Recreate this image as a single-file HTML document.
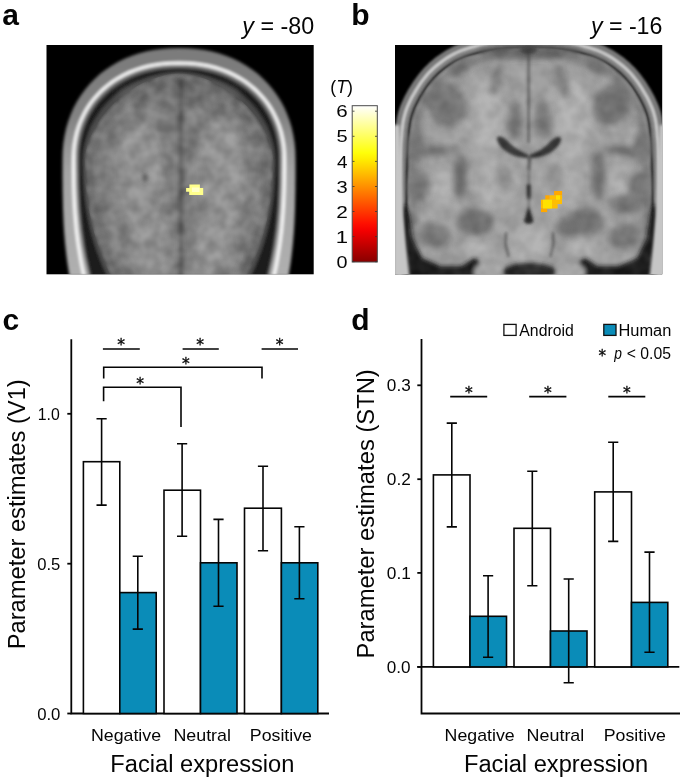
<!DOCTYPE html>
<html><head><meta charset="utf-8"><title>Figure</title>
<style>
html,body{margin:0;padding:0;background:#fff;}
body{width:685px;height:782px;overflow:hidden;}
svg{display:block;will-change:transform;}
text{font-family:"Liberation Sans",Arial,sans-serif;fill:#050505;}
.b{font-weight:bold;font-size:30px;}
.ln{stroke:#050505;stroke-width:1.6;fill:none;}
.ax{stroke:#050505;stroke-width:1.8;fill:none;}
.wb{fill:#fff;stroke:#050505;stroke-width:1.6;}
.bb{fill:#0a8cb8;stroke:#050505;stroke-width:1.6;}
</style></head><body>
<svg width="685" height="782" viewBox="0 0 685 782">
<rect width="685" height="782" fill="#fff"/>

<defs><clipPath id="ca"><rect x="46.5" y="45" width="267.2" height="229.3"/></clipPath>
<clipPath id="cb"><rect x="395" y="45" width="267.2" height="229.3"/></clipPath>
<filter id="bl" filterUnits="userSpaceOnUse" x="0" y="0" width="685" height="300"><feGaussianBlur stdDeviation="1.6"/></filter>
<filter id="bl0" filterUnits="userSpaceOnUse" x="0" y="0" width="685" height="300"><feGaussianBlur stdDeviation="0.5"/></filter>
<filter id="bl1" filterUnits="userSpaceOnUse" x="0" y="0" width="685" height="300"><feGaussianBlur stdDeviation="1.15"/></filter>
<filter id="bl2" filterUnits="userSpaceOnUse" x="0" y="0" width="685" height="300"><feGaussianBlur stdDeviation="2.2"/></filter>
<filter id="bl3" filterUnits="userSpaceOnUse" x="0" y="0" width="685" height="300"><feGaussianBlur stdDeviation="3.2"/></filter>
<filter id="bl5" filterUnits="userSpaceOnUse" x="0" y="0" width="685" height="300"><feGaussianBlur stdDeviation="5"/></filter>
<filter id="nz" filterUnits="userSpaceOnUse" x="0" y="0" width="685" height="300" color-interpolation-filters="sRGB"><feTurbulence type="fractalNoise" baseFrequency="0.075" numOctaves="2" seed="7"/><feColorMatrix type="matrix" values="2 0 0 0 -0.5  2 0 0 0 -0.5  2 0 0 0 -0.5  0 0 0 0 0.13"/><feGaussianBlur stdDeviation="0.8"/></filter>
</defs>
<rect x="46.5" y="45" width="267.2" height="229.3" fill="#000"/>
<g clip-path="url(#ca)"><g filter="url(#bl)">
<linearGradient id="sg" gradientUnits="userSpaceOnUse" x1="0" y1="48" x2="0" y2="274"><stop offset="0" stop-color="#7a7a7a"/><stop offset="0.3" stop-color="#828282"/><stop offset="0.55" stop-color="#a5a5a5"/><stop offset="1" stop-color="#afafaf"/></linearGradient>
<path d="M69.5 276.0L68.7 271.2L67.9 266.3L67.2 261.5L66.6 256.7L66.0 251.8L65.5 247.0L65.0 242.2L64.6 237.3L64.2 232.5L63.9 227.7L63.6 222.8L63.4 218.0L63.2 213.2L63.0 208.3L62.9 203.5L62.8 198.7L62.7 193.8L62.6 189.0L62.6 184.2L62.5 179.3L62.5 174.5L62.5 169.7L62.5 164.8L62.5 160.0L62.7 151.1L63.4 143.1L64.6 135.5L66.2 128.1L68.3 121.0L70.8 114.2L73.7 107.6L77.1 101.2L80.9 95.2L85.1 89.4L89.7 84.0L94.6 78.9L99.9 74.1L105.6 69.7L111.6 65.7L117.9 62.0L124.5 58.8L131.3 56.0L138.5 53.5L145.9 51.6L153.5 50.0L161.5 48.9L169.8 48.2L179.0 48.0L188.2 48.2L196.5 48.9L204.5 50.0L212.1 51.6L219.5 53.5L226.7 56.0L233.5 58.8L240.1 62.0L246.4 65.7L252.4 69.7L258.1 74.1L263.4 78.9L268.3 84.0L272.9 89.4L277.1 95.2L280.9 101.2L284.3 107.6L287.2 114.2L289.7 121.0L291.8 128.1L293.4 135.5L294.6 143.1L295.3 151.1L295.5 160.0L295.5 164.8L295.5 169.7L295.5 174.5L295.5 179.3L295.4 184.2L295.4 189.0L295.3 193.8L295.2 198.7L295.1 203.5L295.0 208.3L294.8 213.2L294.6 218.0L294.4 222.8L294.1 227.7L293.8 232.5L293.4 237.3L293.0 242.2L292.5 247.0L292.0 251.8L291.4 256.7L290.8 261.5L290.1 266.3L289.3 271.2L288.5 276.0Z" fill="url(#sg)"/>
<path d="M84.0 276.0L82.9 271.2L81.9 266.3L81.0 261.5L80.2 256.7L79.4 251.8L78.6 247.0L77.9 242.2L77.3 237.3L76.7 232.5L76.2 227.7L75.8 222.8L75.4 218.0L75.0 213.2L74.7 208.3L74.4 203.5L74.2 198.7L74.0 193.8L73.8 189.0L73.7 184.2L73.6 179.3L73.6 174.5L73.5 169.7L73.5 164.8L73.5 160.0L73.7 152.3L74.3 145.4L75.4 138.8L76.8 132.4L78.7 126.3L81.0 120.3L83.7 114.6L86.7 109.1L90.1 103.9L93.9 98.9L98.1 94.2L102.6 89.7L107.4 85.6L112.5 81.8L117.9 78.3L123.6 75.1L129.6 72.3L135.8 69.9L142.3 67.8L149.0 66.1L155.9 64.7L163.1 63.8L170.7 63.2L179.0 63.0L187.3 63.2L194.9 63.8L202.1 64.7L209.0 66.1L215.7 67.8L222.2 69.9L228.4 72.3L234.4 75.1L240.1 78.3L245.5 81.8L250.6 85.6L255.4 89.7L259.9 94.2L264.1 98.9L267.9 103.9L271.3 109.1L274.3 114.6L277.0 120.3L279.3 126.3L281.2 132.4L282.6 138.8L283.7 145.4L284.3 152.3L284.5 160.0L284.5 164.8L284.5 169.7L284.4 174.5L284.4 179.3L284.3 184.2L284.2 189.0L284.0 193.8L283.8 198.7L283.6 203.5L283.3 208.3L283.0 213.2L282.6 218.0L282.2 222.8L281.8 227.7L281.3 232.5L280.7 237.3L280.1 242.2L279.4 247.0L278.6 251.8L277.8 256.7L277.0 261.5L276.1 266.3L275.1 271.2L274.0 276.0" fill="none" stroke="#fafafa" stroke-width="3.1"/>
<path d="M89.0 276.0L87.8 271.2L86.7 266.3L85.6 261.5L84.6 256.7L83.7 251.8L82.8 247.0L82.1 242.2L81.4 237.3L80.7 232.5L80.1 227.7L79.6 222.8L79.1 218.0L78.7 213.2L78.3 208.3L78.0 203.5L77.8 198.7L77.6 193.8L77.4 189.0L77.2 184.2L77.1 179.3L77.1 174.5L77.0 169.7L77.0 164.8L77.0 160.0L77.2 152.6L77.8 145.9L78.8 139.6L80.2 133.4L82.0 127.5L84.2 121.7L86.8 116.2L89.8 110.9L93.1 105.9L96.8 101.1L100.8 96.5L105.1 92.3L109.8 88.3L114.7 84.6L120.0 81.3L125.5 78.2L131.2 75.5L137.3 73.1L143.5 71.1L150.0 69.5L156.7 68.2L163.7 67.2L170.9 66.7L179.0 66.5L187.1 66.7L194.3 67.2L201.3 68.2L208.0 69.5L214.5 71.1L220.7 73.1L226.8 75.5L232.5 78.2L238.0 81.3L243.3 84.6L248.2 88.3L252.9 92.3L257.2 96.5L261.2 101.1L264.9 105.9L268.2 110.9L271.2 116.2L273.8 121.7L276.0 127.5L277.8 133.4L279.2 139.6L280.2 145.9L280.8 152.6L281.0 160.0L281.0 164.8L281.0 169.7L280.9 174.5L280.9 179.3L280.8 184.2L280.6 189.0L280.4 193.8L280.2 198.7L280.0 203.5L279.7 208.3L279.3 213.2L278.9 218.0L278.4 222.8L277.9 227.7L277.3 232.5L276.6 237.3L275.9 242.2L275.2 247.0L274.3 251.8L273.4 256.7L272.4 261.5L271.3 266.3L270.2 271.2L269.0 276.0Z" fill="#646464"/>
<path d="M91.0 276.0L89.8 271.2L88.7 266.3L87.6 261.5L86.6 256.7L85.7 251.8L84.8 247.0L84.1 242.2L83.4 237.3L82.7 232.5L82.1 227.7L81.6 222.8L81.1 218.0L80.7 213.2L80.3 208.3L80.0 203.5L79.8 198.7L79.6 193.8L79.4 189.0L79.2 184.2L79.1 179.3L79.1 174.5L79.0 169.7L79.0 164.8L79.0 160.0L79.2 152.8L79.8 146.2L80.8 140.0L82.2 134.0L83.9 128.2L86.1 122.6L88.6 117.2L91.5 112.0L94.8 107.0L98.4 102.3L102.3 97.9L106.6 93.7L111.1 89.8L116.0 86.2L121.1 82.9L126.5 80.0L132.2 77.3L138.1 75.0L144.2 73.0L150.6 71.4L157.1 70.1L164.0 69.2L171.1 68.7L179.0 68.5L186.9 68.7L194.0 69.2L200.9 70.1L207.4 71.4L213.8 73.0L219.9 75.0L225.8 77.3L231.5 80.0L236.9 82.9L242.0 86.2L246.9 89.8L251.4 93.7L255.7 97.9L259.6 102.3L263.2 107.0L266.5 112.0L269.4 117.2L271.9 122.6L274.1 128.2L275.8 134.0L277.2 140.0L278.2 146.2L278.8 152.8L279.0 160.0L279.0 164.8L279.0 169.7L278.9 174.5L278.9 179.3L278.8 184.2L278.6 189.0L278.4 193.8L278.2 198.7L278.0 203.5L277.7 208.3L277.3 213.2L276.9 218.0L276.4 222.8L275.9 227.7L275.3 232.5L274.6 237.3L273.9 242.2L273.2 247.0L272.3 251.8L271.4 256.7L270.4 261.5L269.3 266.3L268.2 271.2L267.0 276.0Z" fill="#1c1c1c"/>
<path d="M107.0 276.0L104.8 271.2L102.6 266.3L100.7 261.5L98.8 256.7L97.0 251.8L95.4 247.0L93.9 242.2L92.4 237.3L91.1 232.5L89.9 227.7L88.9 222.8L87.9 218.0L87.0 213.2L86.2 208.3L85.5 203.5L84.9 198.7L84.4 193.8L84.0 189.0L83.7 184.2L83.4 179.3L83.2 174.5L83.1 169.7L83.0 164.8L83.0 160.0L83.2 154.6L83.8 149.1L84.9 143.5L86.4 138.0L88.2 132.5L90.5 127.1L93.1 121.9L96.2 116.8L99.6 111.8L103.3 107.1L107.3 102.6L111.7 98.3L116.4 94.3L121.3 90.6L126.5 87.2L131.8 84.1L137.4 81.3L143.2 78.9L149.0 76.8L155.0 75.1L161.0 73.7L167.1 72.8L173.1 72.2L179.0 72.0L184.9 72.2L190.9 72.8L197.0 73.7L203.0 75.1L209.0 76.8L214.8 78.9L220.6 81.3L226.2 84.1L231.5 87.2L236.7 90.6L241.6 94.3L246.3 98.3L250.7 102.6L254.7 107.1L258.4 111.8L261.8 116.8L264.9 121.9L267.5 127.1L269.8 132.5L271.6 138.0L273.1 143.5L274.2 149.1L274.8 154.6L275.0 160.0L275.0 164.8L274.9 169.7L274.8 174.5L274.6 179.3L274.3 184.2L274.0 189.0L273.6 193.8L273.1 198.7L272.5 203.5L271.8 208.3L271.0 213.2L270.1 218.0L269.1 222.8L268.1 227.7L266.9 232.5L265.6 237.3L264.1 242.2L262.6 247.0L261.0 251.8L259.2 256.7L257.3 261.5L255.4 266.3L253.2 271.2L251.0 276.0Z" fill="#464646"/>
<path d="M113.0 276.0L110.6 271.2L108.4 266.3L106.3 261.5L104.2 256.7L102.4 251.8L100.6 247.0L98.9 242.2L97.4 237.3L95.9 232.5L94.6 227.7L93.4 222.8L92.3 218.0L91.3 213.2L90.4 208.3L89.6 203.5L88.9 198.7L88.3 193.8L87.8 189.0L87.3 184.2L87.0 179.3L86.8 174.5L86.6 169.7L86.5 164.8L86.5 160.0L86.7 156.4L87.4 152.0L88.6 147.3L90.2 142.3L92.2 137.3L94.6 132.2L97.5 127.1L100.7 122.0L104.4 117.1L108.3 112.3L112.6 107.6L117.2 103.2L122.0 99.0L127.1 95.1L132.3 91.4L137.7 88.1L143.2 85.1L148.7 82.5L154.3 80.2L159.8 78.4L165.2 76.9L170.3 75.8L175.1 75.2L179.0 75.0L182.9 75.2L187.7 75.8L192.8 76.9L198.2 78.4L203.7 80.2L209.3 82.5L214.8 85.1L220.3 88.1L225.7 91.4L230.9 95.1L236.0 99.0L240.8 103.2L245.4 107.6L249.7 112.3L253.6 117.1L257.3 122.0L260.5 127.1L263.4 132.2L265.8 137.3L267.8 142.3L269.4 147.3L270.6 152.0L271.3 156.4L271.5 160.0L271.5 164.8L271.4 169.7L271.2 174.5L271.0 179.3L270.7 184.2L270.2 189.0L269.7 193.8L269.1 198.7L268.4 203.5L267.6 208.3L266.7 213.2L265.7 218.0L264.6 222.8L263.4 227.7L262.1 232.5L260.6 237.3L259.1 242.2L257.4 247.0L255.6 251.8L253.8 256.7L251.7 261.5L249.6 266.3L247.4 271.2L245.0 276.0Z" fill="#7d7d7d"/>
</g>
<g filter="url(#bl3)">
<path d="M117.0 276.0L114.7 271.2L112.5 266.3L110.4 261.5L108.4 256.7L106.6 251.8L104.8 247.0L103.2 242.2L101.7 237.3L100.2 232.5L98.9 227.7L97.7 222.8L96.7 218.0L95.7 213.2L94.8 208.3L94.0 203.5L93.3 198.7L92.7 193.8L92.2 189.0L91.8 184.2L91.5 179.3L91.3 174.5L91.1 169.7L91.0 164.8L91.0 160.0L91.2 156.6L91.9 152.5L93.0 148.0L94.5 143.3L96.4 138.5L98.7 133.7L101.5 128.8L104.6 124.0L108.0 119.4L111.8 114.8L115.8 110.4L120.2 106.2L124.8 102.2L129.6 98.5L134.6 95.0L139.7 91.9L144.9 89.1L150.2 86.6L155.5 84.4L160.7 82.7L165.8 81.3L170.8 80.3L175.3 79.7L179.0 79.5L182.7 79.7L187.2 80.3L192.2 81.3L197.3 82.7L202.5 84.4L207.8 86.6L213.1 89.1L218.3 91.9L223.4 95.0L228.4 98.5L233.2 102.2L237.8 106.2L242.2 110.4L246.2 114.8L250.0 119.4L253.4 124.0L256.5 128.8L259.3 133.7L261.6 138.5L263.5 143.3L265.0 148.0L266.1 152.5L266.8 156.6L267.0 160.0L267.0 164.8L266.9 169.7L266.7 174.5L266.5 179.3L266.2 184.2L265.8 189.0L265.3 193.8L264.7 198.7L264.0 203.5L263.2 208.3L262.3 213.2L261.3 218.0L260.3 222.8L259.1 227.7L257.8 232.5L256.3 237.3L254.8 242.2L253.2 247.0L251.4 251.8L249.6 256.7L247.6 261.5L245.5 266.3L243.3 271.2L241.0 276.0" fill="none" stroke="#646464" stroke-width="7" opacity="0.8"/>
</g>
<g filter="url(#bl5)">
<ellipse cx="140" cy="175" rx="26" ry="55" fill="#969696" opacity="0.85"/>
<ellipse cx="222" cy="175" rx="26" ry="55" fill="#969696" opacity="0.85"/>
<ellipse cx="150" cy="245" rx="22" ry="30" fill="#969696" opacity="0.85"/>
<ellipse cx="212" cy="245" rx="22" ry="30" fill="#969696" opacity="0.85"/>
<ellipse cx="179" cy="95" rx="60" ry="12" fill="#696969" opacity="0.7"/>
</g>
<g filter="url(#bl2)">
<path d="M181 78V276" stroke="#3e3e3e" stroke-width="3.6" fill="none" opacity="0.85"/>
<ellipse cx="145" cy="178" rx="2" ry="4" fill="#464646"/>
</g>
<clipPath id="cna"><path d="M111.0 276.0L108.7 271.2L106.5 266.3L104.4 261.5L102.4 256.7L100.6 251.8L98.8 247.0L97.2 242.2L95.7 237.3L94.2 232.5L92.9 227.7L91.7 222.8L90.7 218.0L89.7 213.2L88.8 208.3L88.0 203.5L87.3 198.7L86.7 193.8L86.2 189.0L85.8 184.2L85.5 179.3L85.3 174.5L85.1 169.7L85.0 164.8L85.0 160.0L85.2 156.2L85.9 151.6L87.1 146.6L88.7 141.5L90.7 136.4L93.1 131.1L96.0 126.0L99.2 120.8L102.9 115.8L106.9 110.9L111.1 106.3L115.7 101.8L120.6 97.6L125.7 93.6L131.0 89.9L136.4 86.6L142.0 83.6L147.6 81.0L153.3 78.7L158.9 76.9L164.5 75.4L169.8 74.3L174.8 73.7L179.0 73.5L183.2 73.7L188.2 74.3L193.5 75.4L199.1 76.9L204.7 78.7L210.4 81.0L216.0 83.6L221.6 86.6L227.0 89.9L232.3 93.6L237.4 97.6L242.3 101.8L246.9 106.3L251.1 110.9L255.1 115.8L258.8 120.8L262.0 126.0L264.9 131.1L267.3 136.4L269.3 141.5L270.9 146.6L272.1 151.6L272.8 156.2L273.0 160.0L273.0 164.8L272.9 169.7L272.7 174.5L272.5 179.3L272.2 184.2L271.8 189.0L271.3 193.8L270.7 198.7L270.0 203.5L269.2 208.3L268.3 213.2L267.3 218.0L266.3 222.8L265.1 227.7L263.8 232.5L262.3 237.3L260.8 242.2L259.2 247.0L257.4 251.8L255.6 256.7L253.6 261.5L251.5 266.3L249.3 271.2L247.0 276.0Z"/></clipPath>
<g clip-path="url(#cna)"><rect x="46" y="45" width="268" height="230" filter="url(#nz)"/></g>
<path d="M189.4 184.4H199.9V188.1H203.2V195.1H189.2V191.8H186.1V188.1H189.4Z" fill="#ffff8c"/>
<rect x="192" y="187.5" width="7.5" height="4.5" fill="#ffffc8"/>
</g>
<rect x="395" y="45" width="267.2" height="229.3" fill="#000"/>
<g clip-path="url(#cb)">
<g filter="url(#bl1)">
<path d="M393.0 290.0L393.0 289.2L393.0 287.7L393.0 285.3L392.9 282.2L392.9 278.3L392.8 273.6L392.8 268.1L392.7 261.9L392.7 255.8L392.6 249.8L392.6 244.1L392.5 238.4L392.5 233.0L392.5 227.7L392.5 222.5L392.5 217.5L392.5 212.6L392.5 207.7L392.5 203.0L392.6 198.3L392.6 193.7L392.7 189.1L392.7 184.7L392.8 180.3L392.9 176.0L393.0 171.8L393.1 167.7L393.2 163.6L393.3 159.6L393.5 155.7L393.7 151.9L393.8 148.1L394.0 144.6L394.2 141.2L394.5 138.1L394.7 135.2L394.9 132.4L395.1 129.9L395.4 127.6L395.6 125.4L395.9 123.4L396.2 121.4L396.6 119.4L396.9 117.5L397.3 115.7L397.8 113.9L398.2 112.1L398.8 110.5L399.3 108.7L399.9 107.0L400.6 105.2L401.4 103.3L402.2 101.5L403.1 99.5L404.0 97.6L405.0 95.5L406.1 93.5L407.2 91.4L408.4 89.3L409.7 87.2L411.1 85.0L412.5 82.8L414.0 80.6L415.5 78.4L417.1 76.2L418.8 74.1L420.5 72.0L422.2 70.0L423.9 68.1L425.7 66.2L427.6 64.4L429.4 62.6L431.4 60.9L433.4 59.2L435.4 57.6L437.6 56.0L439.8 54.5L442.0 52.9L444.3 51.5L446.7 50.0L449.1 48.7L451.6 47.4L454.2 46.1L456.8 45.0L459.5 43.9L462.2 42.9L465.1 41.9L467.9 41.1L470.8 40.2L473.7 39.5L476.7 38.7L479.6 38.0L482.5 37.4L485.5 36.8L488.5 36.2L491.5 35.8L494.6 35.3L497.7 34.9L500.8 34.5L504.0 34.2L507.3 34.0L510.6 33.7L514.0 33.6L517.5 33.4L520.9 33.3L524.3 33.3L527.8 33.2L531.2 33.2L534.7 33.3L538.1 33.3L541.5 33.4L545.0 33.6L548.4 33.7L551.7 34.0L555.0 34.2L558.2 34.5L561.3 34.9L564.4 35.3L567.5 35.8L570.5 36.2L573.5 36.8L576.5 37.4L579.4 38.0L582.3 38.7L585.3 39.5L588.2 40.2L591.1 41.1L593.9 41.9L596.8 42.9L599.5 43.9L602.2 45.0L604.8 46.1L607.4 47.4L609.9 48.7L612.3 50.0L614.7 51.5L617.0 52.9L619.2 54.5L621.4 56.0L623.6 57.6L625.6 59.2L627.6 60.9L629.6 62.6L631.4 64.4L633.3 66.2L635.1 68.1L636.8 70.0L638.5 72.0L640.2 74.1L641.9 76.2L643.5 78.4L645.0 80.6L646.5 82.8L647.9 85.0L649.3 87.2L650.6 89.3L651.8 91.4L652.9 93.5L654.0 95.5L655.0 97.6L655.9 99.5L656.8 101.5L657.6 103.3L658.4 105.2L659.1 107.0L659.7 108.7L660.2 110.5L660.8 112.1L661.2 113.9L661.7 115.7L662.1 117.5L662.4 119.4L662.8 121.4L663.1 123.4L663.4 125.4L663.6 127.6L663.9 129.9L664.1 132.4L664.3 135.2L664.5 138.1L664.8 141.2L665.0 144.6L665.2 148.1L665.3 151.9L665.5 155.7L665.7 159.6L665.8 163.6L665.9 167.7L666.0 171.8L666.1 176.0L666.2 180.3L666.3 184.7L666.3 189.1L666.4 193.7L666.4 198.3L666.5 203.0L666.5 207.7L666.5 212.6L666.5 217.5L666.5 222.5L666.5 227.7L666.5 233.0L666.5 238.4L666.4 244.1L666.4 249.8L666.3 255.8L666.3 261.9L666.2 268.1L666.2 273.6L666.1 278.3L666.1 282.2L666.0 285.3L666.0 287.7L666.0 289.2L666.0 290.0L666.0 300.0L393.0 300.0L393.0 290.0Z" fill="#787878"/>
<path d="M400.0 290.0L400.0 293.0L659.0 293.0L659.0 290.0L659.0 289.9L659.3 261.8L659.3 255.7L659.4 249.8L659.4 244.0L659.5 238.4L659.5 232.9L659.5 227.6L659.5 222.5L659.5 217.5L659.5 212.6L659.5 207.8L659.5 203.0L659.4 198.3L659.4 193.7L659.3 189.2L659.3 184.8L659.2 180.4L659.1 176.2L659.0 172.0L658.9 167.9L658.8 163.8L658.7 159.9L658.5 156.0L658.4 152.2L658.2 148.5L658.0 145.0L657.8 141.7L657.6 138.6L657.3 135.7L657.1 133.0L656.9 130.6L656.7 128.3L656.4 126.3L656.2 124.4L655.9 122.5L655.6 120.7L655.2 118.9L654.8 117.2L654.4 115.6L654.0 114.1L653.6 112.6L653.1 111.0L652.5 109.4L651.9 107.8L651.2 106.0L650.4 104.3L649.6 102.5L648.7 100.6L647.8 98.7L646.8 96.8L645.7 94.9L644.5 92.9L643.3 90.9L642.0 88.8L640.7 86.7L639.3 84.6L637.8 82.4L636.3 80.4L634.7 78.4L633.2 76.5L631.6 74.6L630.0 72.8L628.3 71.1L626.6 69.4L624.9 67.8L623.1 66.2L621.2 64.7L619.3 63.2L617.3 61.7L615.3 60.2L613.2 58.8L611.0 57.4L608.8 56.1L606.6 54.8L604.3 53.6L601.9 52.5L599.5 51.4L597.0 50.4L594.4 49.5L591.8 48.6L589.1 47.8L586.3 47.0L583.5 46.2L580.7 45.5L577.9 44.9L575.0 44.2L572.2 43.7L569.3 43.1L566.4 42.7L563.5 42.2L560.5 41.8L557.4 41.5L554.3 41.2L551.2 40.9L547.9 40.7L544.7 40.6L541.3 40.4L537.9 40.3L534.6 40.3L531.2 40.2L527.8 40.2L524.4 40.3L521.1 40.3L517.7 40.4L514.3 40.6L511.1 40.7L507.8 40.9L504.7 41.2L501.6 41.5L498.5 41.8L495.5 42.2L492.6 42.7L489.7 43.1L486.8 43.7L484.0 44.2L481.1 44.9L478.3 45.5L475.5 46.2L472.7 47.0L469.9 47.8L467.2 48.6L464.6 49.5L462.0 50.4L459.5 51.4L457.1 52.5L454.7 53.6L452.4 54.8L450.2 56.1L448.0 57.4L445.8 58.8L443.7 60.2L441.7 61.7L439.7 63.2L437.8 64.7L435.9 66.2L434.1 67.8L432.4 69.4L430.7 71.1L429.0 72.8L427.4 74.6L425.8 76.5L424.3 78.4L422.7 80.4L421.2 82.4L419.7 84.6L418.3 86.7L417.0 88.8L415.7 90.9L414.5 92.9L413.3 94.9L412.2 96.8L411.2 98.7L410.3 100.6L409.4 102.5L408.6 104.3L407.8 106.0L407.1 107.8L406.5 109.4L405.9 111.0L405.4 112.6L405.0 114.1L404.6 115.6L404.2 117.2L403.8 118.9L403.4 120.7L403.1 122.5L402.8 124.4L402.6 126.3L402.3 128.3L402.1 130.6L401.9 133.0L401.7 135.7L401.4 138.6L401.2 141.7L401.0 145.0L400.8 148.5L400.6 152.2L400.5 156.0L400.3 159.9L400.2 163.8L400.1 167.9L400.0 172.0L399.9 176.2L399.8 180.4L399.7 184.8L399.7 189.2L399.6 193.7L399.6 198.3L399.5 203.0L399.5 207.8L399.5 212.6L399.5 217.5L399.5 222.5L399.5 227.6L399.5 232.9L399.5 238.4L399.6 244.0L399.6 249.8L399.7 255.7L399.7 261.8L400.0 289.9L400.0 290.0Z" fill="none" stroke="#cdcdcd" stroke-width="3"/>
<path d="M402.7 290.0L402.7 290.3L656.3 290.3L656.3 290.0L656.3 289.9L656.6 261.8L656.6 255.7L656.7 249.8L656.7 244.0L656.8 238.4L656.8 232.9L656.8 227.6L656.8 222.5L656.8 217.5L656.8 212.6L656.8 207.8L656.8 203.0L656.7 198.4L656.7 193.8L656.6 189.3L656.6 184.8L656.5 180.5L656.4 176.2L656.3 172.0L656.2 167.9L656.1 163.9L656.0 160.0L655.8 156.1L655.7 152.3L655.5 148.6L655.3 145.1L655.1 141.9L654.9 138.8L654.7 135.9L654.4 133.3L654.2 130.8L654.0 128.6L653.8 126.7L653.5 124.8L653.2 122.9L652.9 121.2L652.6 119.5L652.2 117.9L651.8 116.3L651.4 114.8L651.0 113.4L650.5 111.9L650.0 110.3L649.4 108.7L648.7 107.1L647.9 105.4L647.1 103.6L646.3 101.8L645.4 100.0L644.4 98.1L643.3 96.2L642.2 94.2L641.0 92.3L639.8 90.2L638.4 88.2L637.0 86.1L635.6 84.0L634.1 82.0L632.6 80.1L631.1 78.2L629.6 76.4L628.0 74.7L626.4 73.0L624.7 71.4L623.0 69.8L621.3 68.3L619.5 66.8L617.6 65.3L615.7 63.9L613.7 62.4L611.7 61.1L609.6 59.7L607.4 58.4L605.3 57.2L603.0 56.0L600.8 55.0L598.4 53.9L596.0 52.9L593.5 52.0L591.0 51.2L588.3 50.4L585.6 49.6L582.8 48.8L580.1 48.1L577.3 47.5L574.5 46.9L571.7 46.3L568.8 45.8L566.0 45.3L563.1 44.9L560.2 44.5L557.2 44.2L554.1 43.9L551.0 43.6L547.8 43.4L544.5 43.3L541.2 43.1L537.9 43.0L534.5 43.0L531.2 43.0L527.8 43.0L524.5 43.0L521.1 43.0L517.8 43.1L514.5 43.3L511.2 43.4L508.0 43.6L504.9 43.9L501.8 44.2L498.8 44.5L495.9 44.9L493.0 45.3L490.2 45.8L487.3 46.3L484.5 46.9L481.7 47.5L478.9 48.1L476.2 48.8L473.4 49.6L470.7 50.4L468.0 51.2L465.5 52.0L463.0 52.9L460.6 53.9L458.2 55.0L456.0 56.0L453.7 57.2L451.6 58.4L449.4 59.7L447.3 61.1L445.3 62.4L443.3 63.9L441.4 65.3L439.5 66.8L437.7 68.3L436.0 69.8L434.3 71.4L432.6 73.0L431.0 74.7L429.4 76.4L427.9 78.2L426.4 80.1L424.9 82.0L423.4 84.0L422.0 86.1L420.6 88.2L419.2 90.2L418.0 92.3L416.8 94.2L415.7 96.2L414.6 98.1L413.6 100.0L412.7 101.8L411.9 103.6L411.1 105.4L410.3 107.1L409.6 108.7L409.0 110.3L408.5 111.9L408.0 113.4L407.6 114.8L407.2 116.3L406.8 117.9L406.4 119.5L406.1 121.2L405.8 122.9L405.5 124.8L405.2 126.7L405.0 128.6L404.8 130.8L404.6 133.3L404.3 135.9L404.1 138.8L403.9 141.9L403.7 145.1L403.5 148.6L403.3 152.3L403.2 156.1L403.0 160.0L402.9 163.9L402.8 167.9L402.7 172.0L402.6 176.2L402.5 180.5L402.4 184.8L402.4 189.3L402.3 193.8L402.3 198.4L402.2 203.0L402.2 207.8L402.2 212.6L402.2 217.5L402.2 222.5L402.2 227.6L402.2 232.9L402.2 238.4L402.3 244.0L402.3 249.8L402.4 255.7L402.4 261.8L402.7 289.9L402.7 290.0Z" fill="#878787"/>
<path d="M405.4 287.6L653.6 287.6L653.9 261.8L653.9 255.7L654.0 249.8L654.0 244.0L654.1 238.4L654.1 232.9L654.1 227.6L654.1 222.5L654.1 217.5L654.1 212.6L654.1 207.8L654.1 203.0L654.0 198.4L654.0 193.8L653.9 189.3L653.9 184.9L653.8 180.5L653.7 176.3L653.7 172.1L653.5 168.0L653.4 164.0L653.3 160.1L653.1 156.2L653.0 152.5L652.8 148.8L652.6 145.3L652.4 142.0L652.2 139.0L652.0 136.1L651.7 133.5L651.5 131.1L651.3 128.9L651.1 127.0L650.8 125.2L650.5 123.4L650.2 121.7L649.9 120.0L649.6 118.5L649.2 117.0L648.8 115.5L648.4 114.2L648.0 112.8L647.4 111.3L646.8 109.7L646.2 108.1L645.5 106.5L644.7 104.8L643.8 103.0L643.0 101.2L642.0 99.4L641.0 97.5L639.9 95.6L638.7 93.7L637.5 91.7L636.2 89.7L634.8 87.6L633.4 85.6L632.0 83.6L630.5 81.8L629.0 80.0L627.5 78.2L626.0 76.5L624.4 74.9L622.8 73.3L621.2 71.8L619.5 70.3L617.8 68.9L616.0 67.4L614.1 66.0L612.2 64.7L610.2 63.3L608.1 62.0L606.1 60.7L604.0 59.6L601.8 58.5L599.6 57.4L597.4 56.4L595.0 55.5L592.6 54.6L590.2 53.7L587.5 53.0L584.9 52.2L582.1 51.5L579.4 50.8L576.7 50.1L573.9 49.5L571.2 49.0L568.4 48.5L565.6 48.0L562.7 47.6L559.8 47.2L556.9 46.9L553.9 46.6L550.8 46.3L547.6 46.1L544.4 46.0L541.1 45.8L537.8 45.7L534.5 45.7L531.2 45.6L527.8 45.6L524.5 45.7L521.2 45.7L517.9 45.8L514.6 46.0L511.4 46.1L508.2 46.3L505.1 46.6L502.1 46.9L499.2 47.2L496.3 47.6L493.4 48.0L490.6 48.5L487.8 49.0L485.1 49.5L482.3 50.1L479.6 50.8L476.9 51.5L474.1 52.2L471.5 53.0L468.8 53.7L466.4 54.6L464.0 55.5L461.6 56.4L459.4 57.4L457.2 58.5L455.0 59.6L452.9 60.7L450.9 62.0L448.8 63.3L446.8 64.7L444.9 66.0L443.0 67.4L441.2 68.9L439.5 70.3L437.8 71.8L436.2 73.3L434.6 74.9L433.0 76.5L431.5 78.2L430.0 80.0L428.5 81.8L427.0 83.6L425.6 85.6L424.2 87.6L422.8 89.7L421.5 91.7L420.3 93.7L419.1 95.6L418.0 97.5L417.0 99.4L416.0 101.2L415.2 103.0L414.3 104.8L413.5 106.5L412.8 108.1L412.2 109.7L411.6 111.3L411.0 112.8L410.6 114.2L410.2 115.5L409.8 117.0L409.4 118.5L409.1 120.0L408.8 121.7L408.5 123.4L408.2 125.2L407.9 127.0L407.7 128.9L407.5 131.1L407.3 133.5L407.0 136.1L406.8 139.0L406.6 142.0L406.4 145.3L406.2 148.8L406.0 152.5L405.9 156.2L405.7 160.1L405.6 164.0L405.5 168.0L405.3 172.1L405.3 176.3L405.2 180.5L405.1 184.9L405.1 189.3L405.0 193.8L405.0 198.4L404.9 203.0L404.9 207.8L404.9 212.6L404.9 217.5L404.9 222.5L404.9 227.6L404.9 232.9L404.9 238.4L405.0 244.0L405.0 249.8L405.1 255.7L405.1 261.8L405.4 287.6Z" fill="#191919"/>
<path d="M408.7 284.2L650.3 284.2L650.5 261.7L650.5 255.6L650.6 249.7L650.6 244.0L650.7 238.4L650.7 232.9L650.7 227.6L650.7 222.5L650.7 217.5L650.7 212.6L650.7 207.8L650.7 203.1L650.6 198.4L650.6 193.8L650.5 189.3L650.5 184.9L650.4 180.6L650.3 176.3L650.3 172.2L650.1 168.1L650.0 164.1L649.9 160.2L649.7 156.4L649.6 152.6L649.4 149.0L649.2 145.5L649.0 142.2L648.8 139.2L648.6 136.4L648.4 133.8L648.1 131.4L647.9 129.3L647.7 127.4L647.5 125.6L647.2 123.9L646.9 122.3L646.6 120.7L646.3 119.2L645.9 117.8L645.6 116.5L645.2 115.2L644.7 113.8L644.2 112.4L643.7 111.0L643.1 109.4L642.4 107.8L641.6 106.2L640.8 104.5L639.9 102.7L639.0 101.0L638.0 99.2L637.0 97.3L635.8 95.5L634.6 93.5L633.3 91.6L632.0 89.5L630.6 87.5L629.2 85.7L627.8 83.9L626.4 82.1L625.0 80.5L623.5 78.8L622.0 77.3L620.5 75.8L618.9 74.3L617.3 72.9L615.7 71.5L613.9 70.1L612.1 68.8L610.3 67.5L608.3 66.2L606.3 64.9L604.4 63.7L602.4 62.6L600.3 61.5L598.2 60.5L596.0 59.5L593.8 58.6L591.5 57.8L589.1 57.0L586.6 56.2L583.9 55.5L581.3 54.7L578.6 54.1L575.9 53.4L573.2 52.9L570.5 52.3L567.8 51.8L565.0 51.4L562.3 50.9L559.4 50.6L556.5 50.2L553.6 50.0L550.5 49.7L547.4 49.5L544.3 49.3L541.0 49.2L537.7 49.1L534.4 49.1L531.1 49.0L527.9 49.0L524.6 49.1L521.3 49.1L518.0 49.2L514.7 49.3L511.6 49.5L508.5 49.7L505.4 50.0L502.5 50.2L499.6 50.6L496.7 50.9L494.0 51.4L491.2 51.8L488.5 52.3L485.8 52.9L483.1 53.4L480.4 54.1L477.7 54.7L475.1 55.5L472.4 56.2L469.9 57.0L467.5 57.8L465.2 58.6L463.0 59.5L460.8 60.5L458.7 61.5L456.6 62.6L454.6 63.7L452.7 64.9L450.7 66.2L448.7 67.5L446.9 68.8L445.1 70.1L443.3 71.5L441.7 72.9L440.1 74.3L438.5 75.8L437.0 77.3L435.5 78.8L434.0 80.5L432.6 82.1L431.2 83.9L429.8 85.7L428.4 87.5L427.0 89.5L425.7 91.6L424.4 93.5L423.2 95.5L422.0 97.3L421.0 99.2L420.0 101.0L419.1 102.7L418.2 104.5L417.4 106.2L416.6 107.8L415.9 109.4L415.3 111.0L414.8 112.4L414.3 113.8L413.8 115.2L413.4 116.5L413.1 117.8L412.7 119.2L412.4 120.7L412.1 122.3L411.8 123.9L411.5 125.6L411.3 127.4L411.1 129.3L410.9 131.4L410.6 133.8L410.4 136.4L410.2 139.2L410.0 142.2L409.8 145.5L409.6 149.0L409.4 152.6L409.3 156.4L409.1 160.2L409.0 164.1L408.9 168.1L408.7 172.2L408.7 176.3L408.6 180.6L408.5 184.9L408.5 189.3L408.4 193.8L408.4 198.4L408.3 203.1L408.3 207.8L408.3 212.6L408.3 217.5L408.3 222.5L408.3 227.6L408.3 232.9L408.3 238.4L408.4 244.0L408.4 249.7L408.5 255.6L408.5 261.7L408.7 284.2Z" fill="#a1a1a1"/>
</g>
<g filter="url(#bl3)">
<path d="M412.9 280.0L646.1 280.0L646.3 261.7L646.3 255.6L646.4 249.7L646.4 243.9L646.5 238.3L646.5 232.9L646.5 227.6L646.5 222.5L646.5 217.5L646.5 212.6L646.5 207.8L646.5 203.1L646.4 198.4L646.4 193.9L646.3 189.4L646.3 185.0L646.2 180.6L646.1 176.4L646.1 172.3L645.9 168.2L645.8 164.3L645.7 160.4L645.5 156.6L645.4 152.8L645.2 149.2L645.0 145.7L644.8 142.5L644.6 139.5L644.4 136.7L644.2 134.2L644.0 131.8L643.7 129.8L643.5 128.0L643.3 126.3L643.0 124.6L642.8 123.1L642.5 121.6L642.2 120.2L641.9 118.9L641.5 117.6L641.2 116.4L640.8 115.2L640.3 113.9L639.8 112.5L639.2 111.1L638.5 109.5L637.8 108.0L637.0 106.3L636.2 104.6L635.3 103.0L634.4 101.2L633.3 99.5L632.2 97.7L631.1 95.8L629.8 93.9L628.5 91.9L627.2 90.0L625.9 88.2L624.6 86.5L623.2 84.8L621.8 83.2L620.4 81.7L619.0 80.2L617.6 78.8L616.1 77.4L614.6 76.1L613.0 74.8L611.4 73.5L609.6 72.2L607.9 70.9L606.0 69.7L604.1 68.5L602.2 67.3L600.4 66.3L598.5 65.3L596.5 64.3L594.4 63.4L592.3 62.6L590.1 61.7L587.8 61.0L585.4 60.2L582.8 59.5L580.2 58.8L577.6 58.2L575.0 57.5L572.4 57.0L569.7 56.4L567.1 56.0L564.4 55.5L561.7 55.1L558.9 54.7L556.1 54.4L553.2 54.1L550.2 53.9L547.2 53.7L544.1 53.5L540.9 53.4L537.6 53.3L534.4 53.3L531.1 53.2L527.9 53.2L524.6 53.3L521.4 53.3L518.1 53.4L514.9 53.5L511.8 53.7L508.8 53.9L505.8 54.1L502.9 54.4L500.1 54.7L497.3 55.1L494.6 55.5L491.9 56.0L489.3 56.4L486.6 57.0L484.0 57.5L481.4 58.2L478.8 58.8L476.2 59.5L473.6 60.2L471.2 61.0L468.9 61.7L466.7 62.6L464.6 63.4L462.5 64.3L460.5 65.3L458.6 66.3L456.8 67.3L454.9 68.5L453.0 69.7L451.1 70.9L449.4 72.2L447.6 73.5L446.0 74.8L444.4 76.1L442.9 77.4L441.4 78.8L440.0 80.2L438.6 81.7L437.2 83.2L435.8 84.8L434.4 86.5L433.1 88.2L431.8 90.0L430.5 91.9L429.2 93.9L427.9 95.8L426.8 97.7L425.7 99.5L424.6 101.2L423.7 103.0L422.8 104.6L422.0 106.3L421.2 108.0L420.5 109.5L419.8 111.1L419.2 112.5L418.7 113.9L418.2 115.2L417.8 116.4L417.5 117.6L417.1 118.9L416.8 120.2L416.5 121.6L416.2 123.1L416.0 124.6L415.7 126.3L415.5 128.0L415.3 129.8L415.0 131.8L414.8 134.2L414.6 136.7L414.4 139.5L414.2 142.5L414.0 145.7L413.8 149.2L413.6 152.8L413.5 156.6L413.3 160.4L413.2 164.3L413.1 168.2L412.9 172.3L412.9 176.4L412.8 180.6L412.7 185.0L412.7 189.4L412.6 193.9L412.6 198.4L412.5 203.1L412.5 207.8L412.5 212.6L412.5 217.5L412.5 222.5L412.5 227.6L412.5 232.9L412.5 238.3L412.6 243.9L412.6 249.7L412.7 255.6L412.7 261.7L412.9 280.0Z" fill="none" stroke="#6c6c6c" stroke-width="8" opacity="0.75"/>
</g>
<g filter="url(#bl5)">
<ellipse cx="487.0" cy="118.0" rx="19.0" ry="40.0" fill="#b4b4b4" opacity="0.9"/>
<ellipse cx="572.0" cy="118.0" rx="19.0" ry="40.0" fill="#b4b4b4" opacity="0.9"/>
<ellipse cx="443.0" cy="186.0" rx="12.0" ry="20.0" fill="#b4b4b4" opacity="0.9"/>
<ellipse cx="616.0" cy="186.0" rx="12.0" ry="20.0" fill="#b4b4b4" opacity="0.9"/>
<ellipse cx="498.0" cy="182.0" rx="20.0" ry="26.0" fill="#b4b4b4" opacity="0.9"/>
<ellipse cx="561.0" cy="182.0" rx="20.0" ry="26.0" fill="#b4b4b4" opacity="0.9"/>
<ellipse cx="452.0" cy="225.0" rx="10.0" ry="8.0" fill="#b4b4b4" opacity="0.9"/>
<ellipse cx="607.0" cy="225.0" rx="10.0" ry="8.0" fill="#b4b4b4" opacity="0.9"/>
<ellipse cx="478.0" cy="250.0" rx="16.0" ry="8.0" fill="#b4b4b4" opacity="0.9"/>
<ellipse cx="581.0" cy="250.0" rx="16.0" ry="8.0" fill="#b4b4b4" opacity="0.9"/>
<ellipse cx="529.5" cy="245.0" rx="20.0" ry="22.0" fill="#b0b0b0" opacity="0.9"/>
</g>
<g filter="url(#bl3)">
<ellipse cx="446.0" cy="104.0" rx="19.0" ry="23.0" fill="#707070" transform="rotate(-35 446.0 104.0)" opacity="0.9"/>
<ellipse cx="613.0" cy="104.0" rx="19.0" ry="23.0" fill="#707070" transform="rotate(35 613.0 104.0)" opacity="0.9"/>
<ellipse cx="497.0" cy="80.0" rx="5.5" ry="17.0" fill="#7a7a7a" transform="rotate(12 497.0 80.0)" opacity="0.9"/>
<ellipse cx="562.0" cy="80.0" rx="5.5" ry="17.0" fill="#7a7a7a" transform="rotate(-12 562.0 80.0)" opacity="0.9"/>
<ellipse cx="515.5" cy="121.0" rx="8.0" ry="19.0" fill="#767676" opacity="0.9"/>
<ellipse cx="543.5" cy="121.0" rx="8.0" ry="19.0" fill="#767676" opacity="0.9"/>
<ellipse cx="416.0" cy="147.0" rx="9.0" ry="15.0" fill="#747474" opacity="0.9"/>
<ellipse cx="643.0" cy="147.0" rx="9.0" ry="15.0" fill="#747474" opacity="0.9"/>
<ellipse cx="460.5" cy="176.0" rx="6.5" ry="25.0" fill="#6a6a6a" opacity="0.9"/>
<ellipse cx="598.5" cy="176.0" rx="6.5" ry="25.0" fill="#6a6a6a" opacity="0.9"/>
<ellipse cx="433.0" cy="151.0" rx="24.0" ry="5.0" fill="#6e6e6e" transform="rotate(-6 433.0 151.0)" opacity="0.9"/>
<ellipse cx="626.0" cy="151.0" rx="24.0" ry="5.0" fill="#6e6e6e" transform="rotate(6 626.0 151.0)" opacity="0.9"/>
<ellipse cx="419.0" cy="186.0" rx="11.0" ry="15.0" fill="#747474" opacity="0.9"/>
<ellipse cx="640.0" cy="186.0" rx="11.0" ry="15.0" fill="#747474" opacity="0.9"/>
<ellipse cx="474.0" cy="222.0" rx="19.0" ry="13.0" fill="#6c6c6c" opacity="0.9"/>
<ellipse cx="585.0" cy="222.0" rx="19.0" ry="13.0" fill="#6c6c6c" opacity="0.9"/>
<ellipse cx="434.0" cy="236.0" rx="17.0" ry="12.0" fill="#727272" transform="rotate(15 434.0 236.0)" opacity="0.9"/>
<ellipse cx="625.0" cy="236.0" rx="17.0" ry="12.0" fill="#727272" transform="rotate(-15 625.0 236.0)" opacity="0.9"/>
<ellipse cx="462.0" cy="66.0" rx="15.0" ry="7.0" fill="#6e6e6e" transform="rotate(-32 462.0 66.0)" opacity="0.9"/>
<ellipse cx="597.0" cy="66.0" rx="15.0" ry="7.0" fill="#6e6e6e" transform="rotate(32 597.0 66.0)" opacity="0.9"/>
<ellipse cx="505.0" cy="178.0" rx="9.0" ry="17.0" fill="#929292" opacity="0.9"/>
<ellipse cx="554.0" cy="178.0" rx="9.0" ry="17.0" fill="#929292" opacity="0.9"/>
<ellipse cx="626.0" cy="204.0" rx="17.0" ry="10.0" fill="#707070" opacity="0.9"/>
<ellipse cx="567.0" cy="227.0" rx="12.0" ry="11.0" fill="#707070" opacity="0.8"/>
<ellipse cx="529.5" cy="51.5" rx="52.0" ry="6.5" fill="#5c5c5c" opacity="0.85"/>
</g>
<g filter="url(#bl)">
<path d="M528.6 52.0L528.6 142.0" fill="none" stroke="#484848" stroke-width="2.4" stroke-linecap="round" stroke-linejoin="round" opacity="0.85"/>
<ellipse cx="528.6" cy="50.0" rx="9.0" ry="4.0" fill="#3e3e3e" opacity="0.8"/>
<path d="M497.5 137 C502 135 506.5 140 511 144.5 C516.5 149 522.5 152.5 528 154.5 L529 158.2 C520 158 511.5 155.8 505.3 150.8 C499.8 146.3 495.8 140.5 497.5 137Z" fill="#303030"/>
<path d="M560.5 137.5 C556 135.5 551.5 140.5 547 145 C541.5 150 535.5 153 530 154.5 L529 158.2 C538 158 546.5 155.8 552.7 151 C558.2 146.5 562.2 141 560.5 137.5Z" fill="#303030"/>
<path d="M529.5 158.0L529.0 169.0" fill="none" stroke="#555555" stroke-width="3.4" stroke-linecap="round" stroke-linejoin="round"/>
<path d="M529.0 169.0L528.7 185.0" fill="none" stroke="#696969" stroke-width="1.6" stroke-linecap="round" stroke-linejoin="round"/>
<path d="M528.7 186.0L528.7 198.0" fill="none" stroke="#303030" stroke-width="4.0" stroke-linecap="round" stroke-linejoin="round"/>
<path d="M528.7 198.0L528.7 211.0" fill="none" stroke="#5f5f5f" stroke-width="1.6" stroke-linecap="round" stroke-linejoin="round"/>
<path d="M528.7 206 L533.5 221.5 Q528.7 226.5 523.9 221.5Z" fill="#282828"/>
<path d="M506.0 233.0L505.5 244.0L508.5 256.0" fill="none" stroke="#4b4b4b" stroke-width="2.2" stroke-linecap="round" stroke-linejoin="round" opacity="0.8"/>
<path d="M553.0 233.0L553.5 244.0L550.5 256.0" fill="none" stroke="#4b4b4b" stroke-width="2.2" stroke-linecap="round" stroke-linejoin="round" opacity="0.8"/>
</g>
<g filter="url(#bl2)">
<path d="M406 205 L409 215 L413 240 L422 258 L440 266 L462 266 L474 258 L480 262 L480 280 L404 280 L403 205Z" fill="#191919"/>
<path d="M653.0 205 L650.0 215 L646.0 240 L637.0 258 L619.0 266 L597.0 266 L585.0 258 L579.0 262 L579.0 280 L655.0 280 L656.0 205Z" fill="#191919"/>
<ellipse cx="529.5" cy="272.0" rx="27.0" ry="9.0" fill="#232323"/>
<ellipse cx="488.0" cy="272.0" rx="14.0" ry="10.0" fill="#a8a8a8"/>
<ellipse cx="571.0" cy="272.0" rx="14.0" ry="10.0" fill="#a8a8a8"/>
</g>
<g filter="url(#bl)">
<path d="M394 125 L399.5 125 L401.5 170 L403 215 L406 245 L410 280 L394 280Z" fill="#c6c6c6"/>
<path d="M665.0 125 L659.5 125 L657.5 170 L656.0 215 L653.0 245 L649.0 280 L665.0 280Z" fill="#c6c6c6"/>
</g>
<clipPath id="cnb"><path d="M408.0 285.0L651.0 285.0L651.3 261.7L651.3 255.7L651.4 249.7L651.4 244.0L651.5 238.4L651.5 232.9L651.5 227.6L651.5 222.5L651.5 217.5L651.5 212.6L651.5 207.8L651.5 203.1L651.4 198.4L651.4 193.8L651.3 189.3L651.3 184.9L651.2 180.6L651.1 176.3L651.1 172.2L650.9 168.1L650.8 164.1L650.7 160.2L650.5 156.3L650.4 152.6L650.2 148.9L650.0 145.4L649.8 142.2L649.6 139.2L649.4 136.3L649.2 133.7L648.9 131.4L648.7 129.2L648.5 127.3L648.2 125.5L648.0 123.8L647.7 122.2L647.4 120.6L647.0 119.1L646.7 117.6L646.3 116.2L645.9 114.9L645.5 113.6L645.0 112.2L644.4 110.7L643.8 109.1L643.1 107.5L642.3 105.8L641.5 104.1L640.6 102.4L639.7 100.6L638.7 98.8L637.7 96.9L636.5 95.0L635.3 93.1L634.0 91.1L632.6 89.1L631.3 87.1L629.9 85.2L628.5 83.4L627.0 81.6L625.6 79.9L624.1 78.3L622.6 76.7L621.0 75.2L619.5 73.7L617.8 72.3L616.2 70.9L614.4 69.5L612.6 68.1L610.7 66.8L608.8 65.5L606.8 64.2L604.8 63.0L602.8 61.9L600.7 60.8L598.5 59.8L596.4 58.8L594.1 57.9L591.8 57.0L589.4 56.2L586.8 55.4L584.2 54.7L581.5 54.0L578.8 53.3L576.1 52.7L573.4 52.1L570.7 51.5L567.9 51.0L565.2 50.6L562.4 50.2L559.5 49.8L556.6 49.4L553.6 49.2L550.6 48.9L547.5 48.7L544.3 48.5L541.1 48.4L537.8 48.3L534.5 48.3L531.2 48.2L527.8 48.2L524.5 48.3L521.2 48.3L517.9 48.4L514.7 48.5L511.5 48.7L508.4 48.9L505.4 49.2L502.4 49.4L499.5 49.8L496.6 50.2L493.8 50.6L491.1 51.0L488.3 51.5L485.6 52.1L482.9 52.7L480.2 53.3L477.5 54.0L474.8 54.7L472.2 55.4L469.6 56.2L467.2 57.0L464.9 57.9L462.6 58.8L460.5 59.8L458.3 60.8L456.2 61.9L454.2 63.0L452.2 64.2L450.2 65.5L448.3 66.8L446.4 68.1L444.6 69.5L442.8 70.9L441.2 72.3L439.5 73.7L438.0 75.2L436.4 76.7L434.9 78.3L433.4 79.9L432.0 81.6L430.5 83.4L429.1 85.2L427.7 87.1L426.4 89.1L425.0 91.1L423.7 93.1L422.5 95.0L421.3 96.9L420.3 98.8L419.3 100.6L418.4 102.4L417.5 104.1L416.7 105.8L415.9 107.5L415.2 109.1L414.6 110.7L414.0 112.2L413.5 113.6L413.1 114.9L412.7 116.2L412.3 117.6L412.0 119.1L411.6 120.6L411.3 122.2L411.0 123.8L410.8 125.5L410.5 127.3L410.3 129.2L410.1 131.4L409.8 133.7L409.6 136.3L409.4 139.2L409.2 142.2L409.0 145.4L408.8 148.9L408.6 152.6L408.5 156.3L408.3 160.2L408.2 164.1L408.1 168.1L407.9 172.2L407.9 176.3L407.8 180.6L407.7 184.9L407.7 189.3L407.6 193.8L407.6 198.4L407.5 203.1L407.5 207.8L407.5 212.6L407.5 217.5L407.5 222.5L407.5 227.6L407.5 232.9L407.5 238.4L407.6 244.0L407.6 249.7L407.7 255.7L407.7 261.7L408.0 285.0Z"/></clipPath>
<g clip-path="url(#cnb)" opacity="0.6"><rect x="394" y="45" width="268" height="230" filter="url(#nz)"/></g>
<g filter="url(#bl0)">
<rect x="554.1" y="191" width="8" height="4.3" fill="#ffa800"/>
<rect x="545.3" y="195.3" width="4.4" height="4.4" fill="#ffa800"/>
<rect x="549.7" y="195.3" width="12.4" height="4.4" fill="#ffbe00"/>
<rect x="541" y="199.7" width="21" height="4.4" fill="#ffbe00"/>
<rect x="541" y="204.1" width="16.6" height="4.4" fill="#ffbe00"/>
<rect x="541" y="208.5" width="6.2" height="3.6" fill="#ffa800"/>
<rect x="543" y="199.7" width="9" height="8.8" fill="#ffe100"/>
<rect x="556" y="195.3" width="4" height="4.4" fill="#ffe100"/>
</g>
</g>
<text class="b" x="2.2" y="24.7">a</text>
<text class="b" x="351.3" y="24.7">b</text>
<text class="b" x="2.4" y="329.5">c</text>
<text class="b" x="351.3" y="329.5">d</text>
<text x="242.32" y="34.4" font-size="23" textLength="71.80" lengthAdjust="spacingAndGlyphs"><tspan font-style="italic">y</tspan> = -80</text>
<text x="590.91" y="34.4" font-size="23" textLength="71.50" lengthAdjust="spacingAndGlyphs"><tspan font-style="italic">y</tspan> = -16</text>
<defs><linearGradient id="hot" x1="0" y1="1" x2="0" y2="0"><stop offset="0.00" stop-color="#880000"/><stop offset="0.05" stop-color="#a30000"/><stop offset="0.10" stop-color="#be0000"/><stop offset="0.15" stop-color="#d90000"/><stop offset="0.20" stop-color="#f40000"/><stop offset="0.25" stop-color="#ff1100"/><stop offset="0.30" stop-color="#ff2c00"/><stop offset="0.35" stop-color="#ff4700"/><stop offset="0.40" stop-color="#ff6200"/><stop offset="0.45" stop-color="#ff7d00"/><stop offset="0.50" stop-color="#ff9900"/><stop offset="0.55" stop-color="#ffb400"/><stop offset="0.60" stop-color="#ffcf00"/><stop offset="0.65" stop-color="#ffea00"/><stop offset="0.70" stop-color="#ffff0a"/><stop offset="0.75" stop-color="#ffff33"/><stop offset="0.80" stop-color="#ffff5b"/><stop offset="0.85" stop-color="#ffff84"/><stop offset="0.90" stop-color="#ffffad"/><stop offset="0.95" stop-color="#ffffd6"/><stop offset="1.00" stop-color="#ffffff"/></linearGradient></defs>
<rect x="352.2" y="105.7" width="25.1" height="156.3" fill="url(#hot)" stroke="#4a4a4a" stroke-width="1"/>
<path d="M352.5 261.7h2M377 261.7h-2" stroke="#333" stroke-width="0.8"/>
<text x="336.64" y="267.8" font-size="17" textLength="11.02" lengthAdjust="spacingAndGlyphs">0</text>
<path d="M352.5 236.6h2M377 236.6h-2" stroke="#333" stroke-width="0.8"/>
<text x="335.71" y="242.7" font-size="17" textLength="12.30" lengthAdjust="spacingAndGlyphs">1</text>
<path d="M352.5 211.5h2M377 211.5h-2" stroke="#333" stroke-width="0.8"/>
<text x="336.36" y="217.6" font-size="17" textLength="11.59" lengthAdjust="spacingAndGlyphs">2</text>
<path d="M352.5 186.5h2M377 186.5h-2" stroke="#333" stroke-width="0.8"/>
<text x="336.63" y="192.6" font-size="17" textLength="11.16" lengthAdjust="spacingAndGlyphs">3</text>
<path d="M352.5 161.4h2M377 161.4h-2" stroke="#333" stroke-width="0.8"/>
<text x="336.96" y="167.5" font-size="17" textLength="10.51" lengthAdjust="spacingAndGlyphs">4</text>
<path d="M352.5 136.3h2M377 136.3h-2" stroke="#333" stroke-width="0.8"/>
<text x="336.57" y="142.4" font-size="17" textLength="11.16" lengthAdjust="spacingAndGlyphs">5</text>
<path d="M352.5 111.2h2M377 111.2h-2" stroke="#333" stroke-width="0.8"/>
<text x="336.37" y="117.3" font-size="17" textLength="11.44" lengthAdjust="spacingAndGlyphs">6</text>
<text x="330.3" y="92.6" font-size="17.5" textLength="22.7" lengthAdjust="spacingAndGlyphs">(<tspan font-style="italic">T</tspan>)</text>
<path class="ax" d="M71.3 339.2V713.5H329"/>
<path class="ax" d="M67.3 413.8H71.5"/>
<text x="37.69" y="419.8" font-size="17" textLength="22.00" lengthAdjust="spacingAndGlyphs">1.0</text>
<path class="ax" d="M67.3 563.7H71.5"/>
<text x="37.16" y="569.7" font-size="17" textLength="23.10" lengthAdjust="spacingAndGlyphs">0.5</text>
<path class="ax" d="M67.3 713.5H71.5"/>
<text x="37.16" y="719.5" font-size="17" textLength="23.26" lengthAdjust="spacingAndGlyphs">0.0</text>
<rect class="wb" x="83.4" y="461.7" width="36.4" height="251.8"/>
<rect class="bb" x="119.8" y="592.6" width="36.4" height="120.9"/>
<rect class="wb" x="164" y="490.2" width="36.5" height="223.3"/>
<rect class="bb" x="200.5" y="562.8" width="36.5" height="150.7"/>
<rect class="wb" x="244.5" y="508.2" width="36.9" height="205.3"/>
<rect class="bb" x="281.4" y="562.8" width="36.4" height="150.7"/>
<path class="ln" d="M101.6 418.7V505.1M96.5 418.7H106.69999999999999M96.5 505.1H106.69999999999999"/>
<path class="ln" d="M137.8 556.3V629.1M132.70000000000002 556.3H142.9M132.70000000000002 629.1H142.9"/>
<path class="ln" d="M182.1 443.7V536.2M177.0 443.7H187.2M177.0 536.2H187.2"/>
<path class="ln" d="M218.5 519.4V606.3M213.4 519.4H223.6M213.4 606.3H223.6"/>
<path class="ln" d="M263 466.2V550.7M257.9 466.2H268.1M257.9 550.7H268.1"/>
<path class="ln" d="M299.4 526.8V598.7M294.29999999999995 526.8H304.5M294.29999999999995 598.7H304.5"/>
<path class="ln" d="M102.9 349H139.8M182.6 349H218.8M261.6 349H298"/>
<path class="ln" d="M103.7 378.6V367.3H262V378.6"/>
<path class="ln" d="M103.6 401.3V387.2H181V427"/>
<text x="121.2" y="350.2" font-size="15.5" text-anchor="middle" stroke="#111" stroke-width="0.35" style="font-family:'DejaVu Sans',sans-serif">*</text>
<text x="200.2" y="350.2" font-size="15.5" text-anchor="middle" stroke="#111" stroke-width="0.35" style="font-family:'DejaVu Sans',sans-serif">*</text>
<text x="279.5" y="350.2" font-size="15.5" text-anchor="middle" stroke="#111" stroke-width="0.35" style="font-family:'DejaVu Sans',sans-serif">*</text>
<text x="185.8" y="368.6" font-size="15.5" text-anchor="middle" stroke="#111" stroke-width="0.35" style="font-family:'DejaVu Sans',sans-serif">*</text>
<text x="140.2" y="389.1" font-size="15.5" text-anchor="middle" stroke="#111" stroke-width="0.35" style="font-family:'DejaVu Sans',sans-serif">*</text>
<text x="90.94" y="741.3" font-size="17" textLength="70.14" lengthAdjust="spacingAndGlyphs">Negative</text>
<text x="173.43" y="741.3" font-size="17" textLength="57.53" lengthAdjust="spacingAndGlyphs">Neutral</text>
<text x="249.84" y="741.3" font-size="17" textLength="62.17" lengthAdjust="spacingAndGlyphs">Positive</text>
<text x="110.35" y="772.1" font-size="23" textLength="184.06" lengthAdjust="spacingAndGlyphs">Facial expression</text>
<text transform="translate(24.6 649.36) rotate(-90)" font-size="23" textLength="270.13" lengthAdjust="spacingAndGlyphs">Parameter estimates (V1)</text>
<path class="ax" d="M421.5 339V713.5H680"/>
<path class="ax" d="M417.3 666.9H679.3"/>
<path class="ax" d="M417.3 385.3H421.7"/>
<text x="386.84" y="391.3" font-size="17" textLength="23.90" lengthAdjust="spacingAndGlyphs">0.3</text>
<path class="ax" d="M417.3 479.2H421.7"/>
<text x="386.84" y="485.2" font-size="17" textLength="24.01" lengthAdjust="spacingAndGlyphs">0.2</text>
<path class="ax" d="M417.3 572.9H421.7"/>
<text x="386.84" y="578.9" font-size="17" textLength="24.01" lengthAdjust="spacingAndGlyphs">0.1</text>
<path class="ax" d="M417.3 666.9H421.7"/>
<text x="386.85" y="672.9" font-size="17" textLength="23.79" lengthAdjust="spacingAndGlyphs">0.0</text>
<rect class="wb" x="433.4" y="474.9" width="36.6" height="192.0"/>
<rect class="bb" x="470" y="616.3" width="36.5" height="50.6"/>
<rect class="wb" x="514" y="528.3" width="36.5" height="138.6"/>
<rect class="bb" x="550.5" y="631" width="36.5" height="35.9"/>
<rect class="wb" x="594.7" y="491.9" width="36.8" height="175.0"/>
<rect class="bb" x="631.5" y="602.4" width="36.3" height="64.5"/>
<path class="ln" d="M451.8 423.1V526.9M446.7 423.1H456.90000000000003M446.7 526.9H456.90000000000003"/>
<path class="ln" d="M488.1 575.8V657.2M483.0 575.8H493.20000000000005M483.0 657.2H493.20000000000005"/>
<path class="ln" d="M532.3 471.2V585.8M527.1999999999999 471.2H537.4M527.1999999999999 585.8H537.4"/>
<path class="ln" d="M568.7 579V682.8M563.6 579H573.8000000000001M563.6 682.8H573.8000000000001"/>
<path class="ln" d="M613.2 442.3V541.4M608.1 442.3H618.3000000000001M608.1 541.4H618.3000000000001"/>
<path class="ln" d="M649.5 552.1V652.3M644.4 552.1H654.6M644.4 652.3H654.6"/>
<path class="ln" d="M450.2 396.6H487.2M529.2 396.6H566.4M608.3 396.6H645.3"/>
<text x="468.9" y="398.2" font-size="15.5" text-anchor="middle" stroke="#111" stroke-width="0.35" style="font-family:'DejaVu Sans',sans-serif">*</text>
<text x="547.8" y="398.2" font-size="15.5" text-anchor="middle" stroke="#111" stroke-width="0.35" style="font-family:'DejaVu Sans',sans-serif">*</text>
<text x="626.9" y="398.2" font-size="15.5" text-anchor="middle" stroke="#111" stroke-width="0.35" style="font-family:'DejaVu Sans',sans-serif">*</text>
<text x="444.64" y="741.3" font-size="17" textLength="70.04" lengthAdjust="spacingAndGlyphs">Negative</text>
<text x="526.63" y="741.3" font-size="17" textLength="57.63" lengthAdjust="spacingAndGlyphs">Neutral</text>
<text x="603.74" y="741.3" font-size="17" textLength="62.17" lengthAdjust="spacingAndGlyphs">Positive</text>
<text x="463.94" y="772.1" font-size="23" textLength="184.27" lengthAdjust="spacingAndGlyphs">Facial expression</text>
<text transform="translate(374.4 658.46) rotate(-90)" font-size="23" textLength="289.21" lengthAdjust="spacingAndGlyphs">Parameter estimates (STN)</text>
<rect x="503.9" y="324.4" width="12.2" height="11" fill="#fff" stroke="#111" stroke-width="1.3"/>
<text x="519.35" y="335.8" font-size="16" textLength="54.38" lengthAdjust="spacingAndGlyphs">Android</text>
<rect x="603.8" y="324.4" width="12.2" height="11" fill="#0a8cb8" stroke="#111" stroke-width="1.3"/>
<text x="618.47" y="335.8" font-size="16" textLength="52.89" lengthAdjust="spacingAndGlyphs">Human</text>
<text x="602.2" y="361.2" font-size="15" text-anchor="middle" stroke="#111" stroke-width="0.35" style="font-family:'DejaVu Sans',sans-serif">*</text>
<text x="614.25" y="358.5" font-size="16" font-style="italic" textLength="7.69" lengthAdjust="spacingAndGlyphs">p</text>
<text x="626.71" y="358.5" font-size="16" textLength="44.21" lengthAdjust="spacingAndGlyphs">&lt; 0.05</text>
</svg></body></html>
